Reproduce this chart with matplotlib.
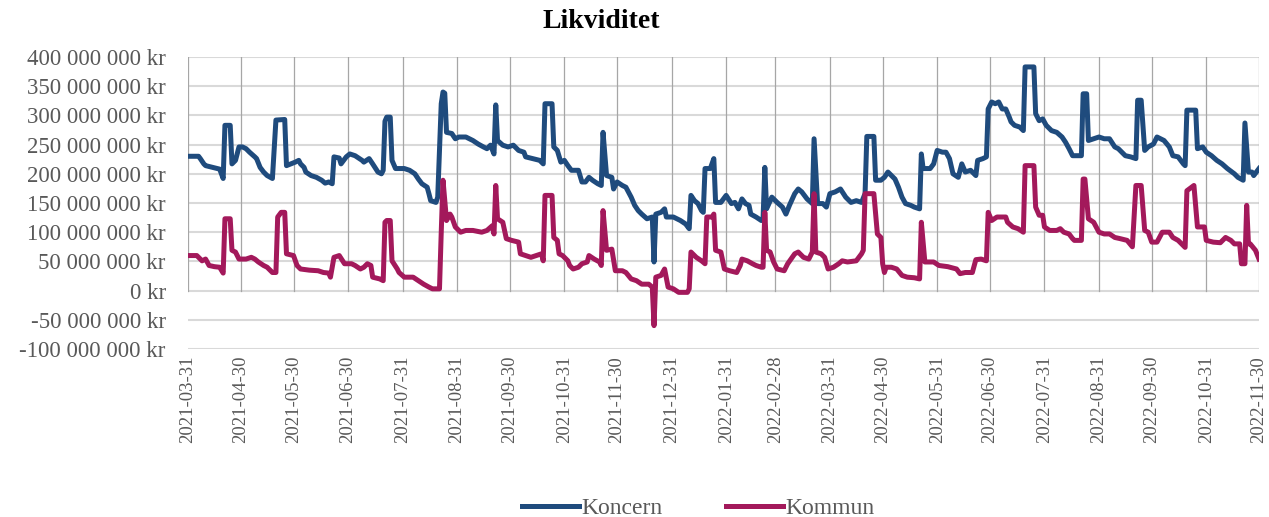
import matplotlib
matplotlib.use("Agg")
import matplotlib.pyplot as plt
import pandas as pd

start_date = "2021-03-31"

koncern_days = [0, 6, 7, 9, 10, 14, 18, 19, 20, 21, 24, 25, 27, 29, 31, 33, 35, 38, 39, 41, 43, 45, 48, 50, 55, 56,
                61, 63, 64, 66, 67, 70, 73, 76, 78, 80, 82, 83, 86, 87, 90, 92, 95, 96, 99, 100, 103, 105, 108, 110,
                111, 112, 113, 115, 116, 118, 123, 126, 129, 131, 133, 136, 137, 138, 141, 142, 144, 145, 146, 147,
                150, 152, 154, 158, 162, 165, 168, 170, 172, 174, 175, 176, 179, 182, 185, 188, 191, 192, 196, 200,
                202, 203, 207, 208, 210, 212, 214, 216, 218, 222, 224, 226, 228, 230, 233, 235, 236, 238, 241, 242,
                244, 247, 249, 252, 254, 256, 258, 261, 264, 265, 266, 269, 271, 272, 276, 280, 283, 285, 286, 288,
                290, 292, 293, 294, 297, 299, 300, 303, 306, 309, 311, 313, 315, 317, 319, 320, 323, 326, 327, 328,
                329, 332, 335, 338, 340, 342, 345, 347, 349, 352, 355, 356, 358, 361, 363, 365, 368, 371, 374, 377,
                380, 383, 385, 386, 390, 391, 394, 396, 398, 400, 402, 404, 406, 408, 411, 413, 416, 417, 418, 422,
                424, 426, 429, 431, 433, 435, 438, 440, 442, 445, 448, 449, 452, 454, 455, 457, 459, 461, 463, 465,
                467, 468, 470, 473, 475, 476, 481, 482, 484, 486, 488, 491, 494, 497, 499, 501, 503, 508, 509, 511,
                512, 515, 518, 521, 524, 527, 529, 533, 536, 539, 540, 542, 544, 546, 549, 551, 555, 558, 560, 563,
                566, 567, 568, 573, 574, 577, 579, 582, 585, 588, 591, 595, 597, 600, 601, 603, 605, 606, 609]
koncern_mkr = [230, 230, 226, 217, 214, 211, 208, 200, 192, 283, 283, 217, 223, 246, 246, 243, 237, 229, 226, 211, 203,
               197, 192, 292, 293, 214, 220, 223, 217, 211, 203, 197, 194, 189, 184, 186, 183, 229, 227, 217, 229, 234,
               231, 229, 223, 220, 226, 217, 203, 200, 206, 290, 297, 297, 223, 209, 209, 206, 200, 191, 183, 177, 166,
               154, 151, 160, 320, 340, 338, 271, 269, 260, 263, 263, 257, 251, 246, 243, 249, 234, 318, 257, 249, 246,
               249, 240, 237, 229, 226, 223, 217, 320, 320, 246, 240, 220, 223, 214, 206, 206, 186, 186, 194, 189, 183,
               180, 271, 197, 194, 174, 186, 180, 177, 160, 146, 137, 131, 123, 126, 49, 131, 134, 140, 126, 126, 120,
               114, 106, 163, 154, 149, 137, 134, 209, 209, 226, 151, 151, 163, 149, 151, 140, 157, 149, 146, 131, 126,
               120, 123, 211, 140, 160, 151, 143, 131, 146, 166, 174, 169, 157, 149, 260, 149, 149, 143, 166, 169, 174,
               160, 151, 154, 151, 166, 264, 264, 189, 189, 194, 203, 197, 191, 177, 160, 149, 146, 143, 140, 234, 209,
               209, 217, 240, 237, 237, 226, 200, 194, 217, 203, 206, 197, 223, 226, 229, 311, 323, 320, 323, 311, 311,
               297, 289, 283, 280, 274, 383, 383, 303, 291, 294, 283, 274, 271, 263, 254, 243, 231, 231, 337, 337, 257,
               260, 263, 260, 260, 246, 243, 231, 229, 226, 326, 326, 240, 246, 251, 263, 257, 246, 231, 229, 217, 214,
               309, 309, 243, 246, 237, 231, 223, 217, 209, 200, 194, 189, 287, 203, 203, 197, 209]

kommun_days = [0, 5, 6, 8, 10, 12, 15, 18, 20, 21, 24, 25, 27, 29, 33, 36, 38, 40, 43, 45, 48, 50, 51, 53, 55, 56, 60,
               62, 64, 69, 74, 77, 80, 81, 83, 86, 89, 93, 95, 98, 100, 102, 104, 105, 109, 111, 112, 113, 115, 116,
               119, 120, 123, 128, 131, 134, 137, 139, 143, 144, 145, 147, 149, 150, 152, 155, 158, 162, 167, 170, 173,
               174, 175, 176, 179, 181, 184, 188, 189, 192, 195, 198, 201, 202, 203, 207, 208, 210, 211, 213, 216, 217,
               219, 222, 224, 227, 228, 231, 234, 235, 236, 238, 241, 243, 247, 249, 252, 255, 258, 262, 264, 265, 266,
               269, 271, 273, 276, 279, 284, 285, 286, 289, 292, 294, 295, 298, 299, 300, 303, 305, 308, 312, 314, 315,
               318, 321, 323, 326, 327, 328, 329, 331, 333, 335, 339, 341, 345, 347, 350, 353, 355, 356, 357, 360, 362,
               364, 367, 370, 372, 375, 380, 383, 384, 385, 390, 392, 394, 395, 396, 397, 400, 403, 406, 409, 413, 416,
               417, 419, 424, 427, 432, 437, 439, 442, 446, 448, 451, 454, 455, 457, 460, 465, 466, 469, 472, 475, 476,
               481, 482, 484, 486, 487, 490, 494, 496, 498, 501, 503, 504, 508, 509, 510, 512, 515, 518, 521, 524, 527,
               530, 534, 537, 539, 542, 544, 546, 548, 551, 554, 558, 560, 563, 567, 568, 572, 574, 578, 579, 583, 587,
               590, 593, 595, 598, 599, 601, 602, 603, 604, 607, 609]
kommun_mkr = [60, 60, 57, 51, 54, 43, 41, 40, 30, 123, 123, 69, 66, 54, 54, 57, 54, 49, 43, 40, 31, 31, 126, 134, 134,
              63, 60, 43, 37, 35, 34, 31, 30, 23, 57, 60, 46, 46, 43, 37, 40, 46, 43, 23, 20, 17, 117, 120, 120, 51, 37,
              31, 23, 23, 17, 11, 6, 3, 3, 100, 189, 120, 131, 126, 109, 100, 103, 103, 100, 103, 111, 97, 180, 123, 117,
              89, 86, 83, 63, 60, 57, 60, 63, 51, 163, 163, 91, 86, 63, 60, 51, 43, 37, 40, 46, 49, 60, 54, 49, 43, 137,
              69, 71, 34, 34, 31, 20, 17, 11, 11, 6, -60, 23, 26, 37, 6, 3, -3, -3, 3, 66, 57, 51, 46, 126, 126, 131, 69,
              66, 37, 34, 31, 43, 54, 51, 46, 43, 40, 40, 134, 69, 66, 49, 37, 34, 46, 63, 66, 57, 54, 66, 166, 66, 63,
              57, 37, 40, 46, 51, 49, 51, 63, 69, 166, 166, 97, 91, 46, 31, 40, 40, 37, 26, 23, 22, 20, 117, 49, 49, 43,
              41, 37, 29, 31, 31, 53, 54, 51, 134, 120, 126, 126, 117, 109, 106, 100, 214, 214, 143, 129, 129, 109, 103,
              103, 106, 100, 97, 89, 86, 86, 191, 191, 123, 117, 100, 97, 97, 91, 89, 86, 75, 180, 180, 103, 100, 83, 83,
              100, 100, 91, 86, 74, 171, 180, 109, 109, 86, 83, 82, 91, 86, 80, 80, 46, 46, 146, 80, 80, 69, 54]

tick_dates = ["2021-03-31", "2021-04-30", "2021-05-30", "2021-06-30", "2021-07-31", "2021-08-31", "2021-09-30",
              "2021-10-31", "2021-11-30", "2021-12-31", "2022-01-31", "2022-02-28", "2022-03-31", "2022-04-30",
              "2022-05-31", "2022-06-30", "2022-07-31", "2022-08-31", "2022-09-30", "2022-10-31", "2022-11-30"]
y_ticks_mkr = [-100, -50, 0, 50, 100, 150, 200, 250, 300, 350, 400]

series_names = ["Koncern", "Kommun"]
series_colors = ["#1F4B7D", "#A3195B"]

plt.rcParams["font.family"] = ["Liberation Serif", "DejaVu Serif"]

base = pd.Timestamp(start_date)
k_dates = base + pd.to_timedelta(koncern_days, unit="D")
m_dates = base + pd.to_timedelta(kommun_days, unit="D")
k_vals = [v * 1e6 for v in koncern_mkr]
m_vals = [v * 1e6 for v in kommun_mkr]

fig = plt.figure(figsize=(12.69, 5.17), dpi=100)
ax = fig.add_axes([188 / 1269, 1 - 349 / 517, (1259 - 188) / 1269, (349 - 57) / 517])

ticks = pd.to_datetime(tick_dates)
y_ticks = [v * 1e6 for v in y_ticks_mkr]

for yv in y_ticks:
    ax.axhline(yv, color="#d9d9d9", lw=1.5, zorder=0)
for t in ticks:
    ax.axvline(t, ymin=0.2, ymax=1.0, color="#a6a6a6", lw=0.9, zorder=0)

ax.plot(k_dates, k_vals, color=series_colors[0], lw=3.6, solid_joinstyle="round", label=series_names[0], zorder=3)
ax.plot(m_dates, m_vals, color=series_colors[1], lw=3.6, solid_joinstyle="round", label=series_names[1], zorder=3)

ax.set_xlim(ticks[0], ticks[-1])
ax.set_ylim(-100e6, 400e6)
ax.set_yticks(y_ticks)


def fmt(v):
    n = int(round(v))
    s = f"{abs(n):,}".replace(",", " ")
    return ("-" if n < 0 else "") + s + " kr"


ax.set_yticklabels([fmt(v) for v in y_ticks])
ax.set_xticks(ticks)
ax.set_xticklabels(tick_dates, rotation=90)
for s in ax.spines.values():
    s.set_visible(False)
ax.tick_params(axis="both", length=0, labelcolor="#595959")
ax.tick_params(axis="y", pad=16, labelsize=16.5)
ax.tick_params(axis="x", pad=5, labelsize=13.5)

fig.text(601 / 1269, 1 - 22 / 517, "Likviditet", ha="center", va="center", fontsize=20, fontweight="bold",
         color="#000000")

leg = fig.legend(loc="center", bbox_to_anchor=(698 / 1269, 9 / 517), ncol=2, frameon=False, fontsize=17,
                 handlelength=2.4, handletextpad=0.1, columnspacing=2.7)
for t in leg.get_texts():
    t.set_color("#595959")

fig.savefig("out.png", dpi=100)
